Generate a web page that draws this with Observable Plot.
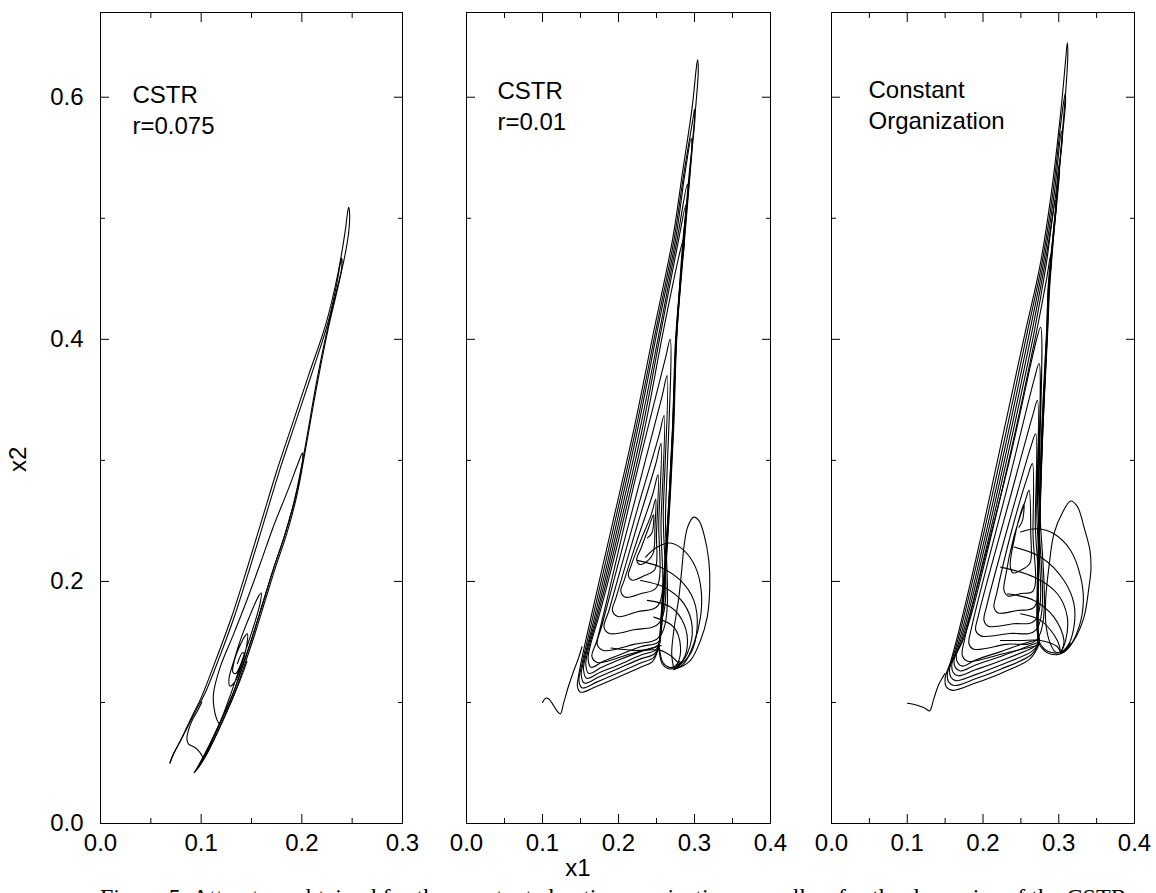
<!DOCTYPE html>
<html>
<head>
<meta charset="utf-8">
<script src="https://cdn.jsdelivr.net/npm/d3@7"></script>
<script src="https://cdn.jsdelivr.net/npm/@observablehq/plot@0.6"></script>
<style>
  html, body { margin: 0; padding: 0; background: #fff; }
  #wrap { position: relative; width: 1156px; height: 893px; overflow: hidden; background: #fff; }
  .panel { position: absolute; top: 0; }
  .lbl { position: absolute; font-family: "Liberation Sans", Arial, sans-serif; font-size: 24px; line-height: 24px; color: #000; }
  #caption { position: absolute; left: 100px; top: 883px; white-space: nowrap; font-family: "Liberation Serif", "DejaVu Serif", serif; font-size: 24px; line-height: 28px; color: #000; }
</style>
</head>
<body>
<div id="wrap">
  <div id="p1" class="panel" style="left:0px"></div>
  <div id="p2" class="panel" style="left:430px"></div>
  <div id="p3" class="panel" style="left:795px"></div>
  <div class="lbl" id="ylab" style="left:6px; top:448px; transform: rotate(-90deg); transform-origin: 12px 12px;">x2</div>
  <div class="lbl" id="xlab" style="left:578px; top:856px; transform: translateX(-50%);">x1</div>
  <div id="caption">Figure 5: Attractors obtained for the constant chaotic organization as well as for the dynamics of the CSTR.</div>
</div>
<script>
// ---------- axis values ----------
const yDomain = [0, 0.67];
const yMajor = [0, 0.2, 0.4, 0.6];
const yMinor = [0.1, 0.3, 0.5];
const x1Domain = [0, 0.3];
const x1Major = [0, 0.1, 0.2, 0.3];
const x1Minor = [0.05, 0.15, 0.25];
const x23Domain = [0, 0.4];
const x23Major = [0, 0.1, 0.2, 0.3, 0.4];
const x23Minor = [0.05, 0.15, 0.25, 0.35];

// ---------- panel titles ----------
const title1 = ["CSTR", "r=0.075"];
const title2 = ["CSTR", "r=0.01"];
const title3 = ["Constant", "Organization"];

// ---------- panel 1: CSTR r=0.075, traced strokes [x1, x2] ----------
const cstr075 = [
  [[0.069,0.050],[0.073,0.058],[0.081,0.071],[0.090,0.087],[0.100,0.104],[0.115,0.136],[0.130,0.170],[0.145,0.209],[0.160,0.250],[0.175,0.291],[0.191,0.331],[0.207,0.371],[0.224,0.413],[0.236,0.455],[0.243,0.489],[0.2455,0.505],[0.2465,0.509],[0.2475,0.503],[0.2465,0.488],[0.242,0.466],[0.2345,0.440],[0.225,0.407],[0.214,0.362],[0.2035,0.312],[0.1935,0.270],[0.183,0.238],[0.1725,0.212],[0.162,0.184],[0.152,0.157],[0.142,0.132],[0.132,0.108],[0.120,0.085],[0.106,0.060],[0.0965,0.046],[0.093,0.042]],
  [[0.069,0.050],[0.0715,0.056],[0.078,0.066],[0.086,0.079],[0.094,0.092],[0.104,0.108],[0.118,0.137],[0.133,0.171],[0.148,0.210],[0.163,0.251],[0.178,0.292],[0.194,0.332],[0.210,0.372],[0.226,0.414],[0.2345,0.445],[0.2385,0.464],[0.2395,0.467],[0.2395,0.458],[0.235,0.440],[0.226,0.408],[0.215,0.362],[0.2045,0.313],[0.1948,0.270],[0.1845,0.238],[0.174,0.212],[0.1635,0.184],[0.1535,0.157],[0.1435,0.132],[0.1335,0.108],[0.122,0.086],[0.108,0.061],[0.098,0.047],[0.094,0.043]],
  [[0.119,0.081],[0.1155,0.086],[0.1125,0.097],[0.1122,0.107],[0.1188,0.129],[0.132,0.156],[0.1452,0.184],[0.1584,0.214],[0.1716,0.245],[0.186,0.275],[0.196,0.297],[0.2005,0.306],[0.201,0.302],[0.199,0.290],[0.1925,0.266],[0.1825,0.237],[0.172,0.211],[0.1615,0.183],[0.1515,0.156],[0.1415,0.131],[0.1315,0.107],[0.1195,0.085],[0.1055,0.060],[0.096,0.045]],
  [[0.094,0.043],[0.100,0.052],[0.110,0.068],[0.120,0.086],[0.129,0.106],[0.140,0.133],[0.151,0.160],[0.158,0.180],[0.1597,0.1904],[0.1575,0.1885],[0.150,0.175],[0.140,0.154],[0.132,0.133],[0.1277,0.120],[0.1285,0.1135],[0.1335,0.117],[0.140,0.130],[0.145,0.146],[0.1459,0.1567],[0.144,0.1555],[0.138,0.146],[0.1325,0.133],[0.1315,0.125],[0.1345,0.124],[0.140,0.133],[0.1426,0.1405],[0.141,0.141],[0.136,0.132]],
  [[0.095,0.044],[0.104,0.056],[0.116,0.075],[0.128,0.097],[0.138,0.117],[0.143,0.128],[0.1455,0.134]],
  [[0.1007,0.1003],[0.097,0.094],[0.091,0.085],[0.087,0.076],[0.0858,0.070],[0.0875,0.0655],[0.0935,0.063],[0.0985,0.059],[0.1007,0.0562],[0.102,0.055]]
];

// ---------- panel 2: CSTR r=0.01 ----------
const cstr001 = [
  // start
  [[0.100,0.100],[0.104,0.1035],[0.108,0.103],[0.113,0.099],[0.119,0.093],[0.1235,0.0905],[0.128,0.100],[0.134,0.113],[0.141,0.126],[0.147,0.136],[0.152,0.146]],
  // outer loops
  [[0.2527,0.1455],[0.245,0.134],[0.229,0.129],[0.200,0.121],[0.170,0.113],[0.150,0.1085],[0.146,0.113],[0.148,0.124],[0.160,0.160],[0.190,0.242],[0.220,0.325],[0.2465,0.407],[0.271,0.482],[0.284,0.537],[0.297,0.592],[0.302,0.622],[0.304,0.631],[0.305,0.622],[0.302,0.595],[0.297,0.560],[0.290,0.509],[0.282,0.450],[0.2755,0.399],[0.2715,0.325],[0.2645,0.242],[0.2555,0.160],[0.2527,0.1455]],
  [[0.253,0.146],[0.246,0.137],[0.229,0.1325],[0.200,0.1245],[0.172,0.117],[0.152,0.112],[0.148,0.118],[0.151,0.129],[0.163,0.162],[0.193,0.243],[0.2225,0.325],[0.249,0.407],[0.273,0.482],[0.286,0.537],[0.2985,0.584],[0.300,0.590],[0.3005,0.582],[0.297,0.558],[0.2905,0.509],[0.2825,0.450],[0.276,0.399],[0.272,0.325],[0.265,0.242],[0.256,0.160],[0.253,0.146]],
  [[0.2535,0.147],[0.247,0.140],[0.229,0.136],[0.200,0.128],[0.174,0.121],[0.155,0.116],[0.151,0.123],[0.154,0.134],[0.166,0.164],[0.196,0.244],[0.225,0.325],[0.251,0.407],[0.275,0.482],[0.287,0.535],[0.2955,0.566],[0.2965,0.560],[0.2935,0.540],[0.289,0.509],[0.2815,0.450],[0.275,0.399],[0.271,0.325],[0.264,0.242],[0.255,0.160],[0.2535,0.147]],
  [[0.254,0.148],[0.248,0.143],[0.229,0.139],[0.200,0.131],[0.176,0.125],[0.158,0.120],[0.154,0.127],[0.157,0.139],[0.169,0.167],[0.199,0.245],[0.228,0.325],[0.254,0.407],[0.277,0.482],[0.2905,0.528],[0.2915,0.522],[0.2885,0.505],[0.2825,0.455],[0.2765,0.399],[0.2725,0.325],[0.2655,0.242],[0.2565,0.160],[0.254,0.148]],
  [[0.2545,0.150],[0.249,0.146],[0.229,0.142],[0.200,0.135],[0.178,0.129],[0.161,0.124],[0.157,0.131],[0.160,0.143],[0.172,0.170],[0.202,0.246],[0.231,0.325],[0.256,0.407],[0.279,0.482],[0.2885,0.511],[0.289,0.505],[0.286,0.490],[0.281,0.450],[0.276,0.399],[0.2715,0.325],[0.2645,0.242],[0.2555,0.160],[0.2545,0.150]],
  [[0.255,0.152],[0.250,0.149],[0.229,0.146],[0.200,0.139],[0.180,0.134],[0.164,0.129],[0.160,0.136],[0.163,0.147],[0.175,0.173],[0.205,0.247],[0.234,0.325],[0.259,0.407],[0.280,0.470],[0.2865,0.485],[0.2865,0.478],[0.283,0.460],[0.278,0.420],[0.2745,0.380],[0.271,0.325],[0.264,0.242],[0.2555,0.165],[0.255,0.152]],
  // inner spiral
  [[0.238,0.236],[0.244,0.240],[0.246,0.255],[0.240,0.245],[0.230,0.228],[0.224,0.218],[0.228,0.214],[0.240,0.218],[0.246,0.224],[0.248,0.245],[0.249,0.268],[0.243,0.255],[0.228,0.232],[0.216,0.212],[0.213,0.205],[0.218,0.201],[0.235,0.205],[0.248,0.210],[0.250,0.240],[0.252,0.288],[0.245,0.272],[0.225,0.235],[0.207,0.200],[0.203,0.192],[0.209,0.187],[0.230,0.190],[0.250,0.195],[0.253,0.250],[0.256,0.314],[0.249,0.297],[0.225,0.247],[0.197,0.187],[0.192,0.176],[0.199,0.171],[0.225,0.175],[0.252,0.180],[0.256,0.250],[0.260,0.337],[0.253,0.320],[0.225,0.260],[0.188,0.177],[0.181,0.162],[0.188,0.157],[0.220,0.160],[0.254,0.166],[0.259,0.260],[0.264,0.370],[0.257,0.352],[0.225,0.275],[0.178,0.163],[0.172,0.148],[0.180,0.143],[0.220,0.148],[0.255,0.155],[0.262,0.260],[0.268,0.400],[0.262,0.385],[0.228,0.300],[0.172,0.152],[0.165,0.138],[0.172,0.133],[0.215,0.140],[0.256,0.147]],
  // right arcs
  [[0.2356,0.2201],[0.251,0.2284],[0.2685,0.2317],[0.286,0.2256],[0.3013,0.2118],[0.3088,0.1926],[0.3079,0.1705],[0.2991,0.1485],[0.286,0.132],[0.2728,0.127]],
  [[0.2247,0.2174],[0.2553,0.2118],[0.2816,0.2008],[0.2991,0.1843],[0.3035,0.1622],[0.2947,0.1402],[0.2773,0.1292]],
  [[0.229,0.2008],[0.2597,0.1953],[0.286,0.1816],[0.297,0.1622],[0.2904,0.1402],[0.2773,0.1292]],
  [[0.2378,0.1843],[0.2685,0.1788],[0.286,0.165],[0.2904,0.1457],[0.2816,0.132],[0.2728,0.128]],
  [[0.2465,0.1705],[0.2728,0.1622],[0.2816,0.1457],[0.2773,0.132],[0.270,0.1285]],
  [[0.190,0.145],[0.220,0.143],[0.255,0.143],[0.270,0.138],[0.2773,0.1335]],
  // bottom-right turn
  [[0.2531,0.1457],[0.2576,0.132],[0.2663,0.1278],[0.275,0.1287],[0.2816,0.1333]],
  [[0.2535,0.1460],[0.2585,0.1330],[0.2665,0.1290],[0.2745,0.1298],[0.2805,0.1340]],
  // ellipse
  [[0.2728,0.1278],[0.270,0.140],[0.2728,0.1595],[0.2794,0.187],[0.284,0.2146],[0.286,0.228],[0.291,0.245],[0.2991,0.2531],[0.306,0.250],[0.3122,0.2394],[0.3188,0.2174],[0.3201,0.1953],[0.3167,0.1705],[0.3079,0.1512],[0.2947,0.1347],[0.2816,0.1292],[0.2728,0.1278]]
];

// ---------- panel 3: Constant Organization ----------
const constOrg = [
  // start
  [[0.1003,0.0994],[0.108,0.0985],[0.116,0.097],[0.124,0.095],[0.1295,0.093],[0.135,0.103],[0.141,0.114],[0.146,0.120],[0.150,0.124]],
  // outer loops
  [[0.2725,0.146],[0.262,0.136],[0.2233,0.124],[0.190,0.116],[0.160,0.110],[0.1515,0.113],[0.150,0.120],[0.1574,0.134],[0.1683,0.1595],[0.1992,0.2421],[0.2277,0.3248],[0.2563,0.4074],[0.275,0.460],[0.290,0.520],[0.303,0.590],[0.309,0.630],[0.3113,0.645],[0.312,0.635],[0.310,0.612],[0.306,0.580],[0.302,0.550],[0.298,0.523],[0.2875,0.443],[0.285,0.4074],[0.2785,0.3248],[0.2742,0.2421],[0.2722,0.1595],[0.2725,0.146]],
  [[0.273,0.147],[0.263,0.139],[0.2233,0.1275],[0.190,0.1195],[0.162,0.114],[0.1545,0.117],[0.153,0.124],[0.160,0.137],[0.171,0.1615],[0.202,0.2425],[0.231,0.3248],[0.259,0.4074],[0.277,0.460],[0.292,0.520],[0.304,0.585],[0.3085,0.603],[0.309,0.596],[0.306,0.575],[0.302,0.548],[0.2985,0.523],[0.288,0.443],[0.2855,0.4074],[0.279,0.3248],[0.2745,0.2421],[0.2725,0.1595],[0.273,0.147]],
  [[0.2735,0.148],[0.264,0.142],[0.2233,0.131],[0.190,0.123],[0.164,0.118],[0.1575,0.121],[0.156,0.128],[0.163,0.140],[0.174,0.163],[0.205,0.243],[0.234,0.3248],[0.262,0.4074],[0.279,0.460],[0.294,0.520],[0.3035,0.572],[0.3045,0.566],[0.302,0.550],[0.2975,0.520],[0.287,0.443],[0.2845,0.4074],[0.278,0.3248],[0.2738,0.2421],[0.2718,0.1595],[0.2735,0.148]],
  [[0.274,0.149],[0.265,0.145],[0.2233,0.1345],[0.190,0.127],[0.167,0.122],[0.1605,0.125],[0.159,0.132],[0.166,0.143],[0.177,0.165],[0.208,0.244],[0.237,0.3248],[0.265,0.4074],[0.281,0.460],[0.296,0.520],[0.3005,0.545],[0.301,0.538],[0.2985,0.520],[0.2955,0.500],[0.2865,0.443],[0.284,0.4074],[0.2775,0.3248],[0.2735,0.2421],[0.2715,0.1595],[0.274,0.149]],
  [[0.2745,0.150],[0.266,0.148],[0.2233,0.138],[0.190,0.131],[0.170,0.126],[0.1635,0.129],[0.162,0.136],[0.169,0.146],[0.180,0.167],[0.211,0.245],[0.240,0.3248],[0.268,0.4074],[0.283,0.460],[0.2955,0.515],[0.2965,0.508],[0.294,0.495],[0.286,0.443],[0.2845,0.4074],[0.2785,0.3248],[0.2745,0.2421],[0.2725,0.1595],[0.2745,0.150]],
  [[0.275,0.151],[0.267,0.151],[0.2233,0.142],[0.190,0.135],[0.173,0.130],[0.1665,0.133],[0.165,0.140],[0.172,0.149],[0.183,0.169],[0.214,0.246],[0.243,0.3248],[0.271,0.4074],[0.284,0.450],[0.2895,0.470],[0.290,0.462],[0.287,0.445],[0.285,0.4074],[0.279,0.3248],[0.2748,0.2421],[0.2728,0.1595],[0.275,0.151]],
  // inner spiral
  [[0.2475,0.2449],[0.252,0.250],[0.2541,0.2642],[0.249,0.255],[0.242,0.237],[0.236,0.212],[0.240,0.207],[0.252,0.210],[0.262,0.215],[0.263,0.240],[0.2607,0.2752],[0.255,0.265],[0.240,0.235],[0.230,0.205],[0.2277,0.1926],[0.233,0.188],[0.250,0.190],[0.266,0.192],[0.266,0.240],[0.2652,0.2973],[0.259,0.287],[0.237,0.240],[0.218,0.190],[0.2145,0.1788],[0.220,0.174],[0.245,0.176],[0.268,0.179],[0.269,0.250],[0.2695,0.322],[0.263,0.311],[0.235,0.250],[0.205,0.180],[0.2013,0.1678],[0.207,0.163],[0.240,0.165],[0.269,0.168],[0.271,0.260],[0.2718,0.3496],[0.266,0.338],[0.234,0.265],[0.194,0.172],[0.1904,0.1595],[0.197,0.155],[0.235,0.157],[0.270,0.160],[0.2725,0.270],[0.274,0.380],[0.268,0.368],[0.233,0.280],[0.185,0.162],[0.1815,0.1485],[0.188,0.144],[0.230,0.148],[0.271,0.152],[0.274,0.280],[0.276,0.410],[0.270,0.398],[0.235,0.300],[0.176,0.153],[0.1727,0.1388],[0.180,0.134],[0.225,0.140],[0.272,0.147]],
  // right arcs
  [[0.2497,0.2408],[0.2718,0.2435],[0.2937,0.2394],[0.3157,0.2256],[0.3289,0.2036],[0.3325,0.1843],[0.3267,0.1622],[0.3135,0.1457],[0.3025,0.1408]],
  [[0.2409,0.2284],[0.2761,0.2201],[0.3069,0.2008],[0.320,0.1816],[0.320,0.1622],[0.3113,0.1457],[0.3025,0.1408]],
  [[0.2234,0.2118],[0.2673,0.2036],[0.2982,0.1898],[0.3113,0.1705],[0.3091,0.1512],[0.3025,0.1408]],
  [[0.2322,0.1898],[0.2673,0.1843],[0.2937,0.1705],[0.3069,0.1512],[0.3025,0.1408]],
  [[0.2497,0.1733],[0.2761,0.1678],[0.2982,0.1512],[0.3025,0.1408]],
  [[0.223,0.1512],[0.250,0.1512],[0.2761,0.1512],[0.2982,0.146],[0.3025,0.1408]],
  // bottom-right turn
  [[0.2722,0.155],[0.2745,0.148],[0.2784,0.1445],[0.285,0.141],[0.2982,0.1395],[0.3069,0.1416],[0.3157,0.1485]],
  [[0.2728,0.156],[0.2752,0.149],[0.2790,0.1455],[0.2855,0.1422],[0.2980,0.1408],[0.3062,0.1428],[0.3145,0.1492]],
  // ellipse
  [[0.3025,0.1408],[0.295,0.142],[0.288,0.150],[0.283,0.165],[0.2827,0.1843],[0.287,0.2118],[0.2937,0.2394],[0.305,0.257],[0.3157,0.2664],[0.3245,0.262],[0.3333,0.2449],[0.3412,0.2256],[0.3425,0.210],[0.3399,0.1953],[0.3333,0.1705],[0.320,0.1512],[0.3069,0.1416],[0.3025,0.1408]]
];

// ---------- helpers ----------
function toRows(strokes) {
  const rows = [];
  strokes.forEach((s, i) => s.forEach(([x, y]) => rows.push({id: i, x, y})));
  return rows;
}
const fmt = d3.format(".1f");
const blank = () => "";

function panel({xDomain, xMajor, xMinor, yLabels, strokes, title, width, marginLeft, marginRight, tdx, tdy}) {
  const marks = [
    Plot.frame({stroke: "black", strokeWidth: 1}),
    Plot.axisX(xMajor, {anchor: "bottom", tickSize: 9, dy: -9, tickFormat: blank, label: null}),
    Plot.axisX(xMinor, {anchor: "bottom", tickSize: 5, dy: -5, tickFormat: blank, label: null}),
    Plot.axisX(xMajor, {anchor: "top", tickSize: 9, dy: 9, tickFormat: blank, label: null}),
    Plot.axisX(xMinor, {anchor: "top", tickSize: 5, dy: 5, tickFormat: blank, label: null}),
    Plot.axisY(yMajor, {anchor: "left", tickSize: 9, dx: 9, tickFormat: blank, label: null}),
    Plot.axisY(yMinor, {anchor: "left", tickSize: 5, dx: 5, tickFormat: blank, label: null}),
    Plot.axisY(yMajor, {anchor: "right", tickSize: 9, dx: -9, tickFormat: blank, label: null}),
    Plot.axisY(yMinor, {anchor: "right", tickSize: 5, dx: -5, tickFormat: blank, label: null}),
    Plot.axisX(xMajor, {anchor: "bottom", tickSize: 0, tickPadding: 10, tickFormat: fmt, label: null, fontSize: 24})
  ];
  if (yLabels) {
    marks.push(Plot.axisY(yMajor, {anchor: "left", tickSize: 0, tickPadding: 17, tickFormat: fmt, label: null, fontSize: 24}));
  }
  marks.push(
    Plot.line(toRows(strokes), {x: "x", y: "y", z: "id", curve: "catmull-rom", stroke: "black", strokeWidth: 1.1}),
    Plot.text([title.join("\n")], {frameAnchor: "top-left", dx: tdx, dy: tdy, text: d => d, textAnchor: "start", lineAnchor: "top", lineHeight: 1.3, fontSize: 24, fill: "black"})
  );
  return Plot.plot({
    width, height: 863,
    marginLeft, marginRight, marginTop: 12, marginBottom: 40,
    x: {domain: xDomain},
    y: {domain: yDomain},
    style: {fontFamily: "'Liberation Sans', Arial, sans-serif", fontSize: "24px", color: "black", background: "transparent", overflow: "visible"},
    marks
  });
}

document.getElementById("p1").appendChild(panel({xDomain: x1Domain, xMajor: x1Major, xMinor: x1Minor, yLabels: true, strokes: cstr075, title: title1, width: 430, marginLeft: 100, marginRight: 28, tdx: 32, tdy: 68}));
document.getElementById("p2").appendChild(panel({xDomain: x23Domain, xMajor: x23Major, xMinor: x23Minor, yLabels: false, strokes: cstr001, title: title2, width: 360, marginLeft: 36, marginRight: 20, tdx: 31, tdy: 64}));
document.getElementById("p3").appendChild(panel({xDomain: x23Domain, xMajor: x23Major, xMinor: x23Minor, yLabels: false, strokes: constOrg, title: title3, width: 361, marginLeft: 36, marginRight: 22, tdx: 37, tdy: 63}));
</script>
</body>
</html>
